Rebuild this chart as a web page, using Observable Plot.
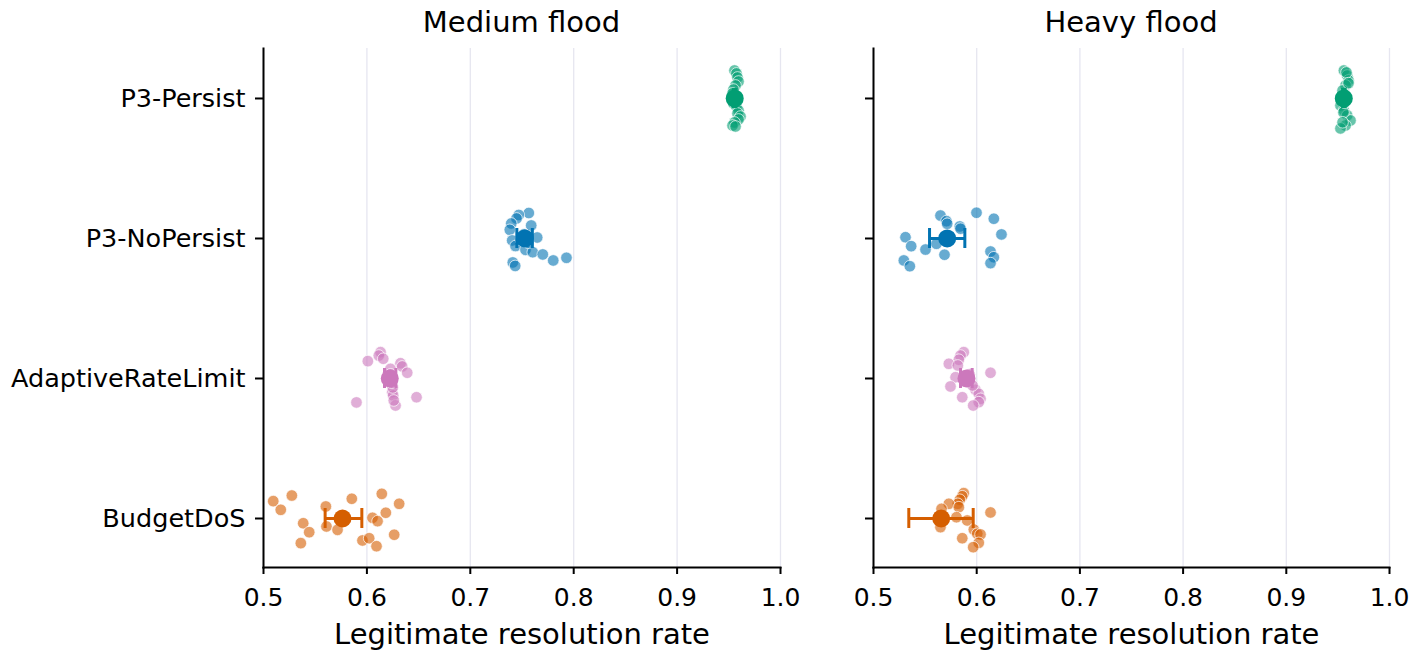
<!DOCTYPE html>
<html>
<head>
<meta charset="utf-8">
<script src="https://cdn.jsdelivr.net/npm/d3@7"></script>
<script src="https://cdn.jsdelivr.net/npm/@observablehq/plot@0.6"></script>
<style>
  body { margin: 0; background: #fff; font-family: "DejaVu Sans", sans-serif; }
  #wrap { position: relative; width: 1417px; height: 660px; overflow: hidden; }
  .panel { position: absolute; top: 0; }
  .title { position: absolute; top: 0; height: 48px; line-height: 44px; font-size: 29px; color: #000; text-align: center; white-space: nowrap; }
  .panel svg { position: absolute; top: 48px; left: 0; }
</style>
</head>
<body>
<div id="wrap"></div>
<script>
// ---------- data ----------
const categories = ["P3-Persist", "P3-NoPersist", "AdaptiveRateLimit", "BudgetDoS"];
const colors = ["#029e73", "#0173b2", "#cc78bc", "#d55e00"];
const panelTitles = ["Medium flood", "Heavy flood"];
const xTicks = [0.5, 0.6, 0.7, 0.8, 0.9, 1.0];
const xLabel = "Legitimate resolution rate";

// Medium flood: per-run values and their vertical jitter (category units)
const mediumPersistX = [0.9555, 0.9574, 0.9584, 0.9594, 0.9565, 0.9545, 0.9536, 0.9565, 0.9584, 0.9545, 0.9574, 0.9594, 0.9584, 0.9613, 0.9594, 0.9555, 0.9536, 0.9565];
const mediumPersistJ = [-0.2, -0.179, -0.15, -0.121, -0.093, -0.064, -0.036, -0.014, 0.014, 0.036, 0.057, 0.086, 0.107, 0.129, 0.15, 0.171, 0.193, 0.2];
const mediumNoPersistX = [0.7566, 0.7469, 0.7447, 0.7396, 0.7589, 0.7382, 0.7647, 0.7405, 0.7437, 0.7534, 0.7604, 0.7701, 0.7802, 0.7930, 0.7411, 0.7434, 0.7520, 0.7560, 0.7490];
const mediumNoPersistJ = [-0.182, -0.168, -0.143, -0.107, -0.093, -0.062, -0.007, 0.014, 0.054, 0.081, 0.098, 0.114, 0.157, 0.138, 0.171, 0.196, -0.03, 0.03, 0.01];
const mediumAdaptiveX = [0.6132, 0.6115, 0.6158, 0.6009, 0.6325, 0.6341, 0.6390, 0.6228, 0.6245, 0.6254, 0.6480, 0.5899, 0.6277, 0.6260, 0.6250, 0.6240, 0.6200, 0.6230];
const mediumAdaptiveJ = [-0.188, -0.164, -0.141, -0.124, -0.109, -0.086, -0.041, -0.069, 0.098, 0.121, 0.134, 0.171, 0.193, 0.157, 0.064, 0.03, -0.01, -0.03];
const mediumBudgetX = [0.5094, 0.5274, 0.5167, 0.5603, 0.5854, 0.6144, 0.6312, 0.6183, 0.6054, 0.6103, 0.5384, 0.5442, 0.5609, 0.5716, 0.5361, 0.5957, 0.6022, 0.6093, 0.6264];
const mediumBudgetJ = [-0.124, -0.164, -0.062, -0.086, -0.141, -0.176, -0.105, -0.041, -0.005, 0.019, 0.034, 0.098, 0.057, 0.081, 0.176, 0.157, 0.141, 0.198, 0.116];
const mediumMean = [0.9557, 0.7527, 0.6221, 0.5764];
const mediumLo = [0.9545, 0.7450, 0.6170, 0.5596];
const mediumHi = [0.9570, 0.7600, 0.6280, 0.5951];

// Heavy flood
const heavyPersistX = [0.9558, 0.9590, 0.9603, 0.9574, 0.9545, 0.9564, 0.9535, 0.9525, 0.9558, 0.9590, 0.9622, 0.9574, 0.9525, 0.9583, 0.9554, 0.9545, 0.9603, 0.9564];
const heavyPersistJ = [-0.2, -0.164, -0.129, -0.093, -0.057, -0.029, 0.014, 0.05, 0.086, 0.121, 0.157, 0.193, 0.214, -0.186, 0.1, 0.17, -0.11, 0.03];
const heavyNoPersistX = [0.5649, 0.5998, 0.6166, 0.5707, 0.5714, 0.5836, 0.5843, 0.5310, 0.6240, 0.5365, 0.5504, 0.5610, 0.5688, 0.5294, 0.5352, 0.6134, 0.6166, 0.6134];
const heavyNoPersistJ = [-0.164, -0.184, -0.141, -0.124, -0.105, -0.086, -0.070, -0.009, -0.029, 0.055, 0.079, 0.038, 0.116, 0.157, 0.198, 0.093, 0.134, 0.176];
const heavyAdaptiveX = [0.5875, 0.5843, 0.5827, 0.5730, 0.5817, 0.6134, 0.5795, 0.5746, 0.5988, 0.6020, 0.6037, 0.5860, 0.6020, 0.5966, 0.5900, 0.5930, 0.5960];
const heavyAdaptiveJ = [-0.188, -0.164, -0.134, -0.105, -0.093, -0.041, -0.009, 0.057, 0.081, 0.109, 0.145, 0.134, 0.169, 0.193, 0.02, -0.03, 0.05];
const heavyBudgetX = [0.5875, 0.5860, 0.5836, 0.5817, 0.5730, 0.5659, 0.5827, 0.6134, 0.5804, 0.5908, 0.5649, 0.5972, 0.6005, 0.6037, 0.5860, 0.6020, 0.5966];
const heavyBudgetJ = [-0.181, -0.159, -0.134, -0.105, -0.105, -0.069, -0.081, -0.043, -0.009, 0.014, 0.062, 0.079, 0.109, 0.114, 0.141, 0.174, 0.205];
const heavyMean = [0.9557, 0.5714, 0.5901, 0.5656];
const heavyLo = [0.9545, 0.5543, 0.5843, 0.5342];
const heavyHi = [0.9570, 0.5885, 0.5956, 0.5966];

// ---------- layout ----------
const yPadTop = 0.357, yPadBottom = 0.35;
const svgHeight = 612;

function buildPanel(opts) {
  const {title, left, width, marginLeft, marginRight, xs, js, mean, lo, hi, showLabels} = opts;
  const pts = [];
  xs.forEach((arr, i) => arr.forEach((v, k) => pts.push({x: v, y: i + js[i][k], color: colors[i]})));
  const stats = categories.map((c, i) => ({i, m: mean[i], lo: lo[i], hi: hi[i], color: colors[i]}));
  const plot = Plot.plot({
    width, height: svgHeight,
    marginTop: 0, marginBottom: 93, marginLeft, marginRight,
    style: {fontFamily: "DejaVu Sans", fontSize: "25px", color: "#000", background: "transparent", overflow: "visible"},
    x: {domain: [xTicks[0], xTicks[xTicks.length - 1]]},
    y: {domain: [categories.length - 1 + yPadBottom, -yPadTop]},
    marks: [
      Plot.ruleX(xTicks, {stroke: "#e6e6f0", strokeWidth: 1.3}),
      Plot.dot(pts, {x: "x", y: "y", r: 5.8, fill: "color", fillOpacity: 0.6, stroke: "white", strokeWidth: 0.7}),
      Plot.ruleY(stats, {y: "i", x1: "lo", x2: "hi", stroke: "color", strokeWidth: 3}),
      Plot.ruleX(stats, {x: "lo", y1: "i", y2: "i", insetTop: -10, insetBottom: -10, stroke: "color", strokeWidth: 3}),
      Plot.ruleX(stats, {x: "hi", y1: "i", y2: "i", insetTop: -10, insetBottom: -10, stroke: "color", strokeWidth: 3}),
      Plot.dot(stats, {x: "m", y: "i", r: 9, fill: "color"}),
      Plot.axisX({ticks: xTicks, tickFormat: d3.format(".1f"), tickSize: 7, tickPadding: 14, fontSize: 25, strokeWidth: 2, label: null, fill: "#000"}),
      Plot.axisY({ticks: categories.map((c, i) => i), tickFormat: showLabels ? (i => categories[i]) : (() => ""), tickSize: 8, tickPadding: 10, fontSize: 25.5, strokeWidth: 2, label: null, fill: "#000"}),
      Plot.frame({anchor: "left", stroke: "#000", strokeWidth: 2}),
      Plot.frame({anchor: "bottom", stroke: "#000", strokeWidth: 2}),
      Plot.text([xLabel], {frameAnchor: "bottom", dy: 67, fontSize: 29, lineAnchor: "middle", fill: "#000"})
    ]
  });
  const div = document.createElement("div");
  div.className = "panel";
  div.style.left = left + "px";
  div.style.width = width + "px";
  div.style.height = "660px";
  const t = document.createElement("div");
  t.className = "title";
  t.textContent = title;
  t.style.left = marginLeft + "px";
  t.style.width = (width - marginLeft - marginRight) + "px";
  div.appendChild(t);
  div.appendChild(plot);
  document.getElementById("wrap").appendChild(div);
}

buildPanel({
  title: panelTitles[0], left: 0, width: 820, marginLeft: 263, marginRight: 40,
  xs: [mediumPersistX, mediumNoPersistX, mediumAdaptiveX, mediumBudgetX],
  js: [mediumPersistJ, mediumNoPersistJ, mediumAdaptiveJ, mediumBudgetJ],
  mean: mediumMean, lo: mediumLo, hi: mediumHi, showLabels: true
});
buildPanel({
  title: panelTitles[1], left: 820, width: 597, marginLeft: 53, marginRight: 28,
  xs: [heavyPersistX, heavyNoPersistX, heavyAdaptiveX, heavyBudgetX],
  js: [heavyPersistJ, heavyNoPersistJ, heavyAdaptiveJ, heavyBudgetJ],
  mean: heavyMean, lo: heavyLo, hi: heavyHi, showLabels: false
});
</script>
</body>
</html>
